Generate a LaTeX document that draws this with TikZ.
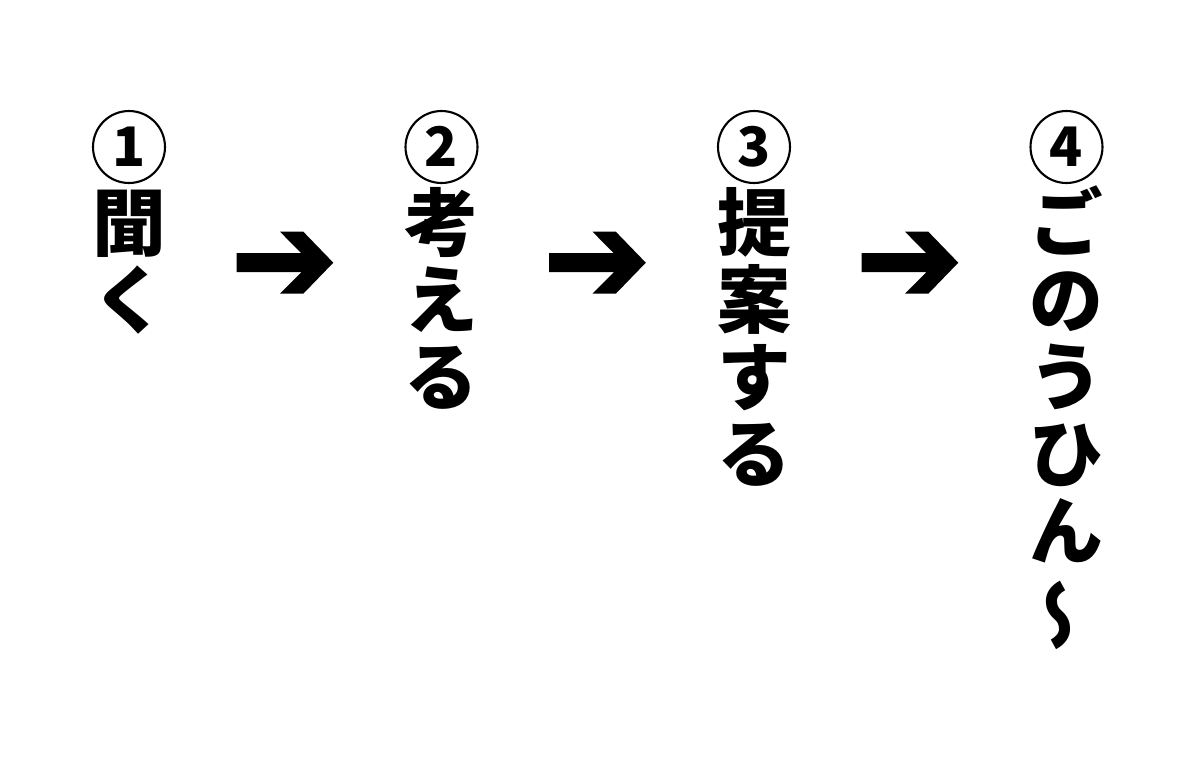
\documentclass[tikz,border=0pt]{standalone}
\usepackage{fontspec}
\usepackage{graphicx}
\newfontfamily\jpfont{Noto Sans CJK JP}
\newcommand{\tatesen}{\rotatebox[origin=c]{90}{\reflectbox{〜}}}
\tikzset{
    maru/.style={circle, draw, line width=1.2pt, minimum size=1.44cm, inner sep=0pt,
        text height=22.7pt, text depth=0pt,
        font=\jpfont\bfseries\fontsize{31}{31}\selectfont},
    moji/.style={inner sep=0pt, text height=37pt, text depth=5pt,
        font=\jpfont\bfseries\fontsize{42}{42}\selectfont}
}
\begin{document}
\begin{tikzpicture}[x=0.02cm, y=-0.02cm]
                        % Frame
                        \useasboundingbox (0,0) rectangle (1200,782);
                        % Steps
                        \foreach \i/\x/\chars in {1/129/{聞,く}, 2/441.5/{考,え,る},
                            3/754/{提,案,す,る}, 4/1066.5/{ご,の,う,ひ,ん,\tatesen}}
                        {
                            \node[maru] (m\i) at (\x,147) {\i};
                            \foreach \c [count=\j] in \chars
                            {
                                \node[moji] (c\i-\j) at (\x,145+77*\j) {\c};
                            }
                        }
                        % Arrows
                        \foreach \i/\x in {1/333.3, 2/645.8, 3/958.3}
                        {
                            \coordinate (s\i) at (\x-96.6,262.7);
                            \coordinate (t\i) at (\x,262.7);
                            \fill (s\i) ++(0,-9.5) --
                                ([shift={(-32,-9.5)}]t\i) --
                                ([shift={(-53.3,-31)}]t\i) --
                                ([shift={(-30,-31)}]t\i) --
                                (t\i) --
                                ([shift={(-30,31)}]t\i) --
                                ([shift={(-53.3,31)}]t\i) --
                                ([shift={(-32,9.5)}]t\i) --
                                ([shift={(0,9.5)}]s\i) -- cycle;
                        }
\end{tikzpicture}
\end{document}
